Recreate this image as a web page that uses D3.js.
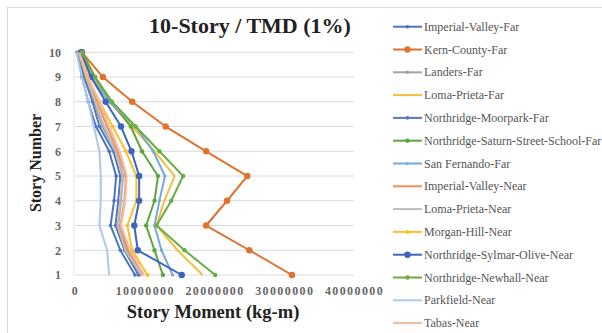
<!DOCTYPE html>
<html>
<head>
<meta charset="utf-8">
<script src="https://cdn.jsdelivr.net/npm/d3@7"></script>
<style>
    body { margin:0; background:#fff; }
</style>
</head>
<body>
<div id="main"></div>
<script>

// story 1 .. 10
const stories = [1,2,3,4,5,6,7,8,9,10];
const xTicks = [0,10000000,20000000,30000000,40000000];

const seriesNames = ["Imperial-Valley-Far","Kern-County-Far","Landers-Far","Loma-Prieta-Far",
    "Northridge-Moorpark-Far","Northridge-Saturn-Street-School-Far","San Fernando-Far",
    "Imperial-Valley-Near","Loma-Prieta-Near","Morgan-Hill-Near","Northridge-Sylmar-Olive-Near",
    "Northridge-Newhall-Near","Parkfield-Near","Tabas-Near"];

// story moments, millions kg-m, story 1 first
const imperialValleyFar = [8.6,6.5,5.1,5.6,5.9,4.9,3.0,1.9,1.0,0.3];
const kernCountyFar     = [31.1,25.0,18.8,21.8,24.7,18.8,13.0,8.2,4.0,1.0];
const landersFar        = [9.3,7.4,6.2,6.6,6.9,5.9,3.9,2.7,1.5,0.5];
const lomaPrietaFar     = [18.3,14.7,11.7,12.8,14.3,11.4,8.2,4.9,2.5,0.7];
const moorparkFar       = [9.1,7.1,5.8,6.2,6.5,5.5,3.5,2.5,1.3,0.5];
const saturnStreetFar   = [12.6,11.4,10.2,11.4,11.9,9.6,8.0,5.2,2.8,1.0];
const sanFernandoFar    = [14.0,12.4,11.4,12.1,12.9,11.2,8.7,4.9,2.3,0.6];
const imperialValleyNear= [9.8,7.6,6.5,7.1,7.3,6.1,4.6,3.2,1.7,0.6];
const lomaPrietaNear    = [9.5,7.2,6.1,6.5,6.8,5.8,4.2,2.9,1.6,0.5];
const morganHillNear    = [10.4,8.2,7.5,8.8,8.8,7.3,5.4,3.5,1.7,0.6];
const sylmarOliveNear   = [15.3,9.0,8.5,9.2,9.2,8.1,6.6,4.4,2.3,0.9];
const newhallNear       = [20.1,15.7,11.7,13.8,15.5,12.1,8.7,5.3,2.9,1.0];
const parkfieldNear     = [4.9,4.6,3.5,3.7,3.7,3.5,2.7,1.9,1.0,0.2];
const tabasNear         = [9.9,7.9,6.6,7.2,7.4,6.4,4.9,3.5,1.9,0.6];

const allValues = [imperialValleyFar,kernCountyFar,landersFar,lomaPrietaFar,moorparkFar,
    saturnStreetFar,sanFernandoFar,imperialValleyNear,lomaPrietaNear,morganHillNear,
    sylmarOliveNear,newhallNear,parkfieldNear,tabasNear];

const colors = ["#4a74c2","#e0712f","#a3a3a3","#f0bf3c","#5578c4","#5fa53e","#77a9dc",
    "#f0915a","#bdbdbd","#f9c12a","#3d64be","#6aad45","#adc9e8","#f5b8a0"];
// marker radius, 0 = no marker
const markers = [1.8,3.2,1.8,0,1.8,2.2,1.5,0,0,2,3.2,2.2,0,0];

const serif = "'Liberation Serif', 'Times New Roman', serif";
const w = 602, h = 333;
const svg = d3.select("#main").append("svg").attr("width",w).attr("height",h);

const xScale = d3.scaleLinear().domain([0,40000000]).range([75,354]);
const yScale = d3.scaleLinear().domain([1,10]).range([275,52.3]);

// chart border
svg.append("rect").attr("x",7.5).attr("y",7.5).attr("width",w).attr("height",h)
    .attr("fill","none").attr("stroke","#d9d9d9");

// gridlines
svg.append("g").selectAll("line").data(stories).enter().append("line")
    .attr("x1",xScale(0)).attr("x2",xScale(40000000))
    .attr("y1",d=>yScale(d)).attr("y2",d=>yScale(d))
    .attr("stroke","#d9d9d9").attr("stroke-width",1);

svg.append("line")
    .attr("x1",xScale(0)-1).attr("x2",xScale(0)-1)
    .attr("y1",yScale(10)).attr("y2",yScale(1))
    .attr("stroke","#e3e3e3");

// axes, text only
const yAxis = d3.axisLeft(yScale).tickValues(stories).tickSize(0).tickPadding(14).tickFormat(d3.format("d"));
const xAxis = d3.axisBottom(xScale).tickValues(xTicks).tickSize(0).tickPadding(11).tickFormat(d3.format("d"));

const gy = svg.append("g").attr("transform","translate("+xScale(0)+",0)").call(yAxis);
const gx = svg.append("g").attr("transform","translate(0,"+yScale(1)+")").call(xAxis);
[gy,gx].forEach(function(g){
    g.attr("font-family",serif).attr("font-size",12);
    g.select(".domain").remove();
    g.selectAll("text").attr("fill","#666").attr("font-weight","bold");
});
gx.selectAll("text").attr("letter-spacing",1.4);

// lines
const line = d3.line().x(d=>xScale(d.v)).y(d=>yScale(d.s));
allValues.forEach(function(vals,i){
    var pts = vals.map((v,j)=>({v:v*1000000, s:stories[j]}));
    svg.append("path").datum(pts)
        .attr("d",line)
        .attr("fill","none")
        .attr("stroke",colors[i])
        .attr("stroke-width",2)
        .attr("stroke-linejoin","round");
    if(markers[i] > 0){
        svg.append("g").selectAll("circle").data(pts).enter().append("circle")
            .attr("cx",d=>xScale(d.v)).attr("cy",d=>yScale(d.s))
            .attr("r",markers[i]).attr("fill",colors[i]);
    }
});

// titles
svg.append("text").attr("x",250).attr("y",33)
    .attr("text-anchor","middle").attr("font-family",serif).attr("font-size",22).attr("font-weight","bold")
    .attr("fill","#222").text("10-Story / TMD (1%)");

svg.append("text").attr("transform","translate(41,163) rotate(-90)")
    .attr("text-anchor","middle").attr("font-family",serif).attr("font-size",16).attr("font-weight","bold")
    .attr("fill","#222").text("Story Number");

svg.append("text").attr("x",213).attr("y",318)
    .attr("text-anchor","middle").attr("font-family",serif).attr("font-size",18.5).attr("font-weight","bold")
    .attr("fill","#222").text("Story Moment (kg-m)");

// legend
const legend = svg.append("g").selectAll("g").data(seriesNames).enter().append("g")
    .attr("transform",(d,i)=>"translate(393,"+(26.7 + i*22.8)+")");
legend.append("line").attr("x1",0).attr("x2",29).attr("y1",0).attr("y2",0)
    .attr("stroke",(d,i)=>colors[i]).attr("stroke-width",2);
legend.filter((d,i)=>markers[i] > 0).append("circle")
    .attr("cx",14.5).attr("cy",0).attr("r",(d)=>markers[seriesNames.indexOf(d)])
    .attr("fill",(d)=>colors[seriesNames.indexOf(d)]);
legend.append("text").attr("x",31).attr("y",4)
    .attr("font-family",serif).attr("font-size",12).attr("fill","#555").text(d=>d);

</script>
</body>
</html>
